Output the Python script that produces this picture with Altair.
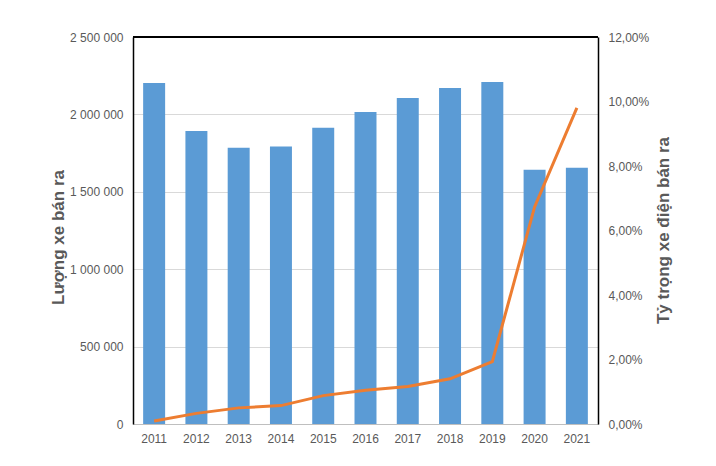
import altair as alt
import pandas as pd

years = ["2011", "2012", "2013", "2014", "2015", "2016", "2017", "2018", "2019", "2020", "2021"]
sales = [2203000, 1893000, 1785000, 1792000, 1913000, 2016000, 2106000, 2171000, 2209000, 1643000, 1655000]
ev_share = [0.09, 0.33, 0.50, 0.57, 0.88, 1.05, 1.16, 1.40, 1.93, 6.73, 9.80]

df = pd.DataFrame({"year": years, "sales": sales, "share": ev_share})

font = "Liberation Sans"
grey = "#595959"

x = alt.X("year:N", title=None, scale=alt.Scale(paddingInner=0.48, paddingOuter=0.24),
          axis=alt.Axis(labelAngle=0, ticks=False, domainColor="#BFBFBF", labelPadding=9,
                        labelColor=grey, labelFontSize=12, labelFont=font))

bars = alt.Chart(df).mark_bar(color="#5B9BD5").encode(
    x=x,
    y=alt.Y("sales:Q", title="Lượng xe bán ra",
            scale=alt.Scale(domain=[0, 2500000], nice=False),
            axis=alt.Axis(values=[0, 500000, 1000000, 1500000, 2000000, 2500000],
                          labelExpr="replace(replace(format(datum.value, ','), ',', ' '), ',', ' ')",
                          ticks=False, domain=True, domainColor="#000000", domainWidth=1.5,
                          labelPadding=10,
                          gridColor="#D9D9D9", labelColor=grey, labelFontSize=12, labelFont=font,
                          titleColor=grey, titleFontSize=17, titleFont=font, titleFontWeight="bold",
                          titleX=-75, titleY=200, titleAngle=-90, titleBaseline="middle",
                          titleAlign="center")),
)

line = alt.Chart(df).mark_line(color="#ED7D31", strokeWidth=3).encode(
    x=alt.X("year:N"),
    y=alt.Y("share:Q", title="Tỷ trọng xe điện bán ra",
            scale=alt.Scale(domain=[0, 12], nice=False),
            axis=alt.Axis(orient="right", values=[0, 2, 4, 6, 8, 10, 12], grid=False,
                          labelExpr="replace(format(datum.value, '.2f'), '.', ',') + '%'",
                          ticks=False, domain=True, domainColor="#000000", domainWidth=1.5,
                          labelPadding=10,
                          labelColor=grey, labelFontSize=12, labelFont=font,
                          titleColor=grey, titleFontSize=17, titleFont=font, titleFontWeight="bold",
                          titleX=65, titleY=193, titleAngle=-90, titleBaseline="middle",
                          titleAlign="center")),
)

top_edge = alt.Chart(df).mark_rule(color="#000000", strokeWidth=1.5).encode(
    x=alt.value(0), x2=alt.value(465), y=alt.value(0)
)

chart = alt.layer(bars, line, top_edge).resolve_scale(y="independent").properties(
    width=465, height=387,
    autosize=alt.AutoSizeParams(type="none"),
    padding={"left": 125, "top": 29, "right": 110, "bottom": 34},
).configure_view(stroke=None).configure(background="white")

chart.save("out.html", embed_options={"renderer": "svg", "actions": False})
